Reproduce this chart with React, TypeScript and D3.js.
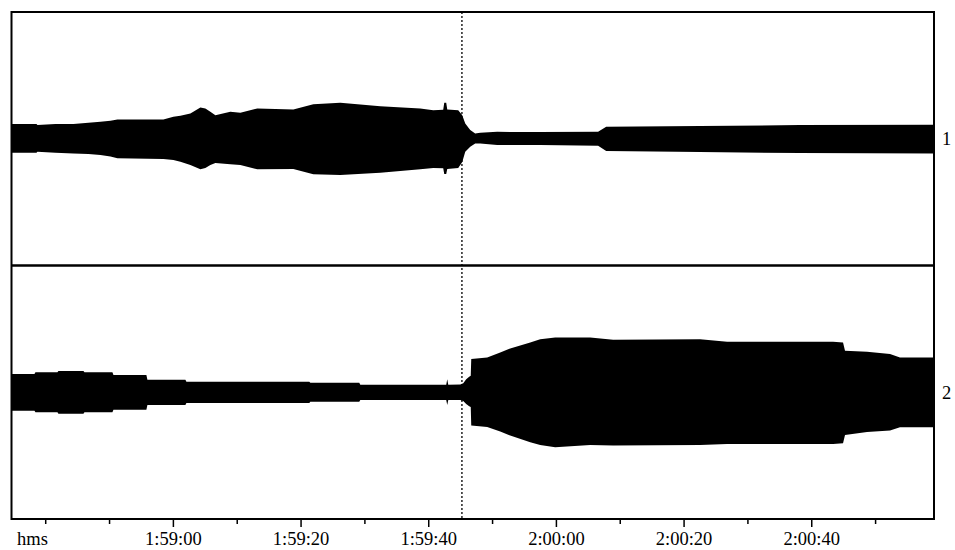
import React from "react";
import * as d3 from "d3";

// time in seconds relative to 1:59:00 (clock seconds = 7140 + t)
const BASE_CLOCK = 7140;
const T_START = -25.36;
const T_END = 119.15;
const MARKER_T = 45.2;

const ch1T = [-25.36, -21.45, -21.29, -18.47, -15.66, -13.31, -11.43, -9.86, -8.77, -1.57, 0, 1.1, 2.66, 4.23, 5.01, 5.79, 6.58, 8.92, 10.49, 13.15, 18.79, 21.92, 26.15, 32.41, 38.67, 40.71, 42.27, 42.43, 42.74, 42.9, 44.62, 45.25, 45.72, 46.5, 47.28, 48.07, 50.73, 57.46, 66.53, 67.8, 82.51, 98.17, 119.15];
const ch1Hi = [14.7, 14.7, 13.7, 14.7, 14.7, 16, 17, 18, 19.4, 19.4, 22, 23, 25.4, 31.4, 30.4, 27, 23.7, 27, 26, 30.4, 29.4, 34.7, 36, 32.7, 30.4, 28.7, 29, 36, 36, 29.4, 28.7, 23.7, 15.4, 8.7, 5.4, 6, 7, 6.7, 7, 12, 12.7, 13.7, 14];
const ch1Lo = [-14, -14, -13, -14, -14.6, -15.3, -16.3, -17.8, -19.6, -20.3, -21.3, -23, -26.3, -30.6, -29.3, -26.3, -24.3, -25.6, -26.3, -30.6, -30.3, -35.6, -36.3, -34, -30.6, -29.3, -29.5, -35.3, -35.3, -30.3, -29.3, -23.3, -13, -8, -4.6, -4.6, -6.3, -6.3, -7, -12.3, -13.3, -14.3, -14.8];

const ch2T = [-25.36, -21.76, -21.61, -18.16, -18.01, -14.09, -13.93, -9.55, -9.39, -4.23, -4.07, 1.88, 2.04, 21.29, 21.45, 29.12, 29.28, 42.74, 42.9, 43.06, 44.94, 45.41, 45.87, 46.34, 46.58, 46.66, 49.16, 51.2, 52.76, 55.9, 57.46, 59.81, 65.29, 68.89, 82.51, 86.74, 103.34, 104.9, 105.21, 108.66, 112.26, 113.82, 119.15];
const ch2Hi = [18.3, 18.3, 20, 20, 21.3, 21.3, 20, 20, 17.3, 17.3, 12.6, 12.6, 10.6, 10.6, 9.6, 9.6, 7.6, 7.6, 13, 7.6, 7.8, 9, 13, 15.5, 16.6, 33.3, 35, 40, 44, 50, 53.3, 55, 55, 52.6, 53.3, 50.6, 50.6, 50, 41.6, 40.6, 38.3, 35, 35];
const ch2Lo = [-18.4, -18.4, -20, -20, -21.4, -21.4, -20, -20, -17.4, -17.4, -12.7, -12.7, -10.7, -10.7, -9.4, -9.4, -7.7, -7.7, -12.7, -7.7, -7.8, -8.7, -11.7, -14, -14.7, -33.4, -34.7, -39.4, -43.4, -50, -52.7, -55, -52.7, -53.4, -52.7, -51.7, -51.7, -51, -42.7, -39.7, -38.4, -35, -35];

const channelLabels = ["1", "2"];
const TICK_STEP = 10;
const MAJOR_STEP = 20;
const AXIS_UNIT_LABEL = "hms";

const W = 955;
const H = 550;
const L = 11.5;
const R = 934;
const TOP = 12;
const MID = 265.6;
const BOT = 519;

function fmtClock(sec: number) {
  const s = Math.round(sec);
  const h = Math.floor(s / 3600);
  const m = Math.floor((s % 3600) / 60);
  const ss = s % 60;
  return `${h}:${String(m).padStart(2, "0")}:${String(ss).padStart(2, "0")}`;
}

const FONT = '"Liberation Serif", "DejaVu Serif", serif';

export default function App() {
  const x = d3.scaleLinear().domain([T_START, T_END]).range([L, R]);
  const y1 = d3.scaleLinear().domain([-127, 127]).range([MID, TOP]);
  const y2 = d3.scaleLinear().domain([-127, 127]).range([BOT, MID]);

  const mk = (T: number[], hi: number[], lo: number[], y: d3.ScaleLinear<number, number>) =>
    d3
      .area<number>()
      .x((i) => x(T[i]))
      .y0((i) => y(lo[i]))
      .y1((i) => y(hi[i]))
      .curve(d3.curveLinear)(d3.range(T.length)) || "";

  const p1 = mk(ch1T, ch1Hi, ch1Lo, y1);
  const p2 = mk(ch2T, ch2Hi, ch2Lo, y2);

  const ticks = d3.range(Math.ceil(T_START / TICK_STEP) * TICK_STEP, T_END, TICK_STEP);
  const ts = { fontFamily: FONT, fontSize: 18.5 };

  return (
    <svg width={W} height={H} style={{ position: "absolute", left: 0, top: 0, background: "#fff" }}>
      <rect x={0} y={0} width={W} height={H} fill="#fff" />
      <path d={p1} fill="#000" />
      <path d={p2} fill="#000" />
      <line x1={x(MARKER_T)} x2={x(MARKER_T)} y1={TOP} y2={BOT} stroke="#000" strokeWidth={1.3} strokeDasharray="2,2" />
      <rect x={L} y={TOP} width={R - L} height={BOT - TOP} fill="none" stroke="#000" strokeWidth={2} />
      <line x1={L} x2={R} y1={MID} y2={MID} stroke="#000" strokeWidth={2.5} />
      <text x={942} y={y1(0)} dy="0.35em" style={ts}>{channelLabels[0]}</text>
      <text x={942} y={y2(0)} dy="0.35em" style={ts}>{channelLabels[1]}</text>
      {ticks.map((t) => {
        const major = t >= 0 && t % MAJOR_STEP === 0;
        return (
          <g key={t}>
            <line x1={x(t)} x2={x(t)} y1={BOT} y2={BOT + (major ? 8 : 5)} stroke="#000" strokeWidth={1.5} />
            {major && (
              <text x={x(t)} y={545} textAnchor="middle" style={ts}>
                {fmtClock(BASE_CLOCK + t)}
              </text>
            )}
          </g>
        );
      })}
      <text x={17} y={545} style={ts}>{AXIS_UNIT_LABEL}</text>
    </svg>
  );
}
